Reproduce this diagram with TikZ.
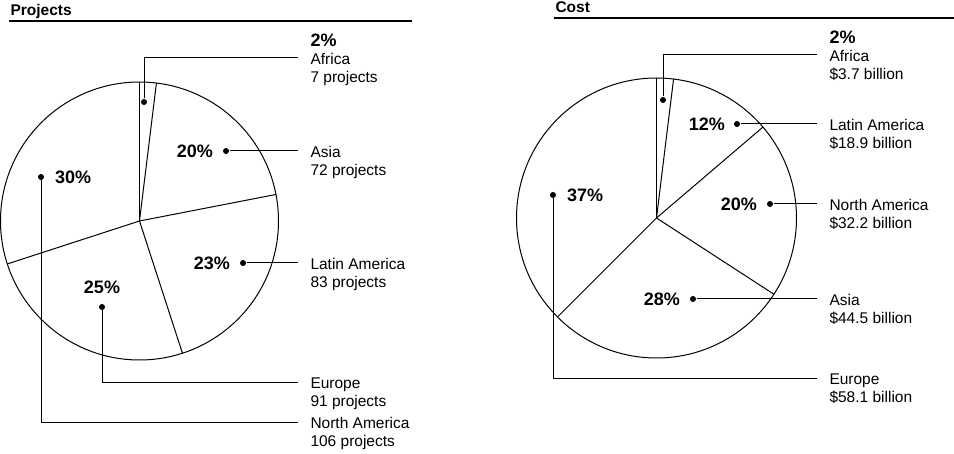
\documentclass[tikz,border=0pt]{standalone}
\usepackage{fontspec}
\setmainfont{Liberation Sans}
\usetikzlibrary{positioning}
\tikzset{
  dot/.style={circle,fill,inner sep=0pt,minimum size=6pt},
  pct/.style={font=\fontsize{18}{20}\selectfont\bfseries,inner sep=0pt},
  lbl/.style={font=\fontsize{15.5}{18}\selectfont,align=left,inner sep=0pt,anchor=north west},
  ttl/.style={font=\fontsize{15.5}{18}\selectfont\bfseries,inner sep=0pt,anchor=base west},
  rule/.style={line width=1.5pt},
}
\begin{document}
\begin{tikzpicture}[x=1pt,y=1pt,line width=1pt]
\useasboundingbox (0,0) rectangle (954,453);
% titulos
\node[ttl] (projT) at (10,437) {Projects};
\draw[rule] (9,432) -- (412,432);
\node[ttl] (costT) at (555,440) {Cost};
\draw[rule] (554,435) -- (954,435);

% pastel de proyectos
\coordinate (pc) at (139.5,232);
\draw (pc) circle (139);
\foreach \a in {90,83,11,-72,-162} \draw (pc) -- ++(\a:139);

\node[dot] (afrD) at (144,351) {}; % Africa
\coordinate (afrE) at (298,395);
\draw (afrD) |- (afrE);
\node[lbl] (afrL) at ([shift={(12,5.5)}]afrE) {Africa\\7 projects};
\node[pct,anchor=south west] (afrP) at ([yshift=5pt]afrL.north west) {2\%};

\node[dot] (asiaD) at (226,302) {}; % Asia
\node[pct,left=9pt of asiaD] (asiaP) {20\%};
\coordinate (asiaE) at (298,302);
\draw (asiaD) -- (asiaE);
\node[lbl] (asiaL) at ([shift={(12,5.5)}]asiaE) {Asia\\72 projects};

\node[dot] (latD) at (243,190) {}; % Latin America
\node[pct,left=9pt of latD] (latP) {23\%};
\coordinate (latE) at (298,190);
\draw (latD) -- (latE);
\node[lbl] (latL) at ([shift={(12,5.5)}]latE) {Latin America\\83 projects};

\node[dot] (eurD) at (102,146) {}; % Europe
\node[pct,above=9pt of eurD] (eurP) {25\%};
\coordinate (eurE) at (298,70);
\draw (eurD) |- (eurE);
\node[lbl] (eurL) at ([shift={(12,5.5)}]eurE) {Europe\\91 projects};

\node[dot] (naD) at (41,276) {}; % North America
\node[pct,right=10pt of naD] (naP) {30\%};
\coordinate (naE) at (298,31);
\draw (naD) |- (naE);
\node[lbl] (naL) at ([shift={(12,5.5)}]naE) {North America\\106 projects};

% pastel de costos
\coordinate (cc) at (656.5,235);
\draw (cc) circle (140);
\foreach \a in {90,83,40.5,-33,-135} \draw (cc) -- ++(\a:140);

\node[dot] (afrD2) at (663,353) {}; % Africa
\coordinate (afrE2) at (817,398);
\draw (afrD2) |- (afrE2);
\node[lbl] (afrL2) at ([shift={(12,5.5)}]afrE2) {Africa\\\$3.7 billion};
\node[pct,anchor=south west] (afrP2) at ([yshift=5pt]afrL2.north west) {2\%};

\node[dot] (latD2) at (737,329) {}; % Latin America
\node[pct,left=8pt of latD2] (latP2) {12\%};
\coordinate (latE2) at (817,329);
\draw (latD2) -- (latE2);
\node[lbl] (latL2) at ([shift={(12,5.5)}]latE2) {Latin America\\\$18.9 billion};

\node[dot] (naD2) at (770,249) {}; % North America
\node[pct,left=9pt of naD2] (naP2) {20\%};
\coordinate (naE2) at (817,249);
\draw (naD2) -- (naE2);
\node[lbl] (naL2) at ([shift={(12,5.5)}]naE2) {North America\\\$32.2 billion};

\node[dot] (asiaD2) at (693,154) {}; % Asia
\node[pct,left=9pt of asiaD2] (asiaP2) {28\%};
\coordinate (asiaE2) at (817,154);
\draw (asiaD2) -- (asiaE2);
\node[lbl] (asiaL2) at ([shift={(12,5.5)}]asiaE2) {Asia\\\$44.5 billion};

\node[dot] (eurD2) at (553,258) {}; % Europe
\node[pct,right=10pt of eurD2] (eurP2) {37\%};
\coordinate (eurE2) at (817,74);
\draw (eurD2) |- (eurE2);
\node[lbl] (eurL2) at ([shift={(12,5.5)}]eurE2) {Europe\\\$58.1 billion};
\end{tikzpicture}
\end{document}
